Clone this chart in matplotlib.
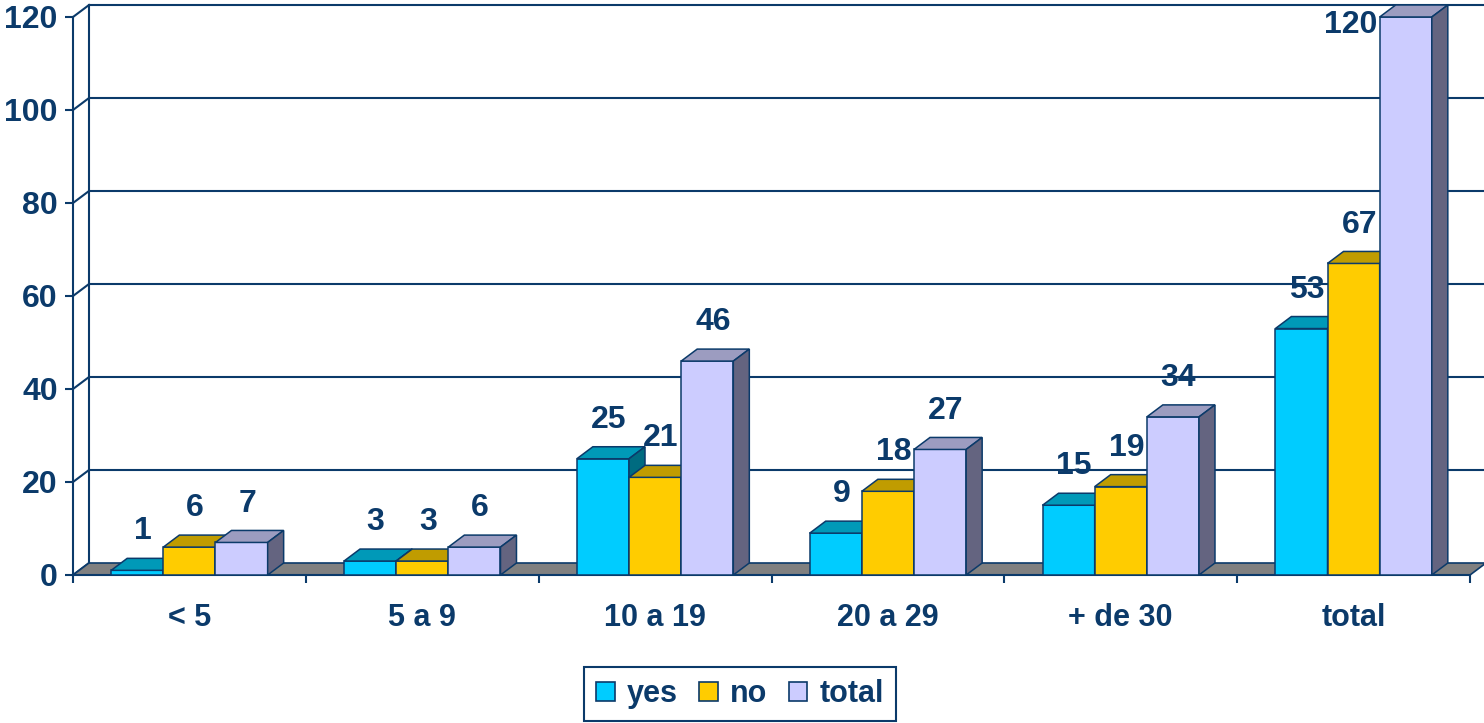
import matplotlib
matplotlib.use("Agg")
import matplotlib.pyplot as plt
import matplotlib.patches as mpatches
from matplotlib.patches import Polygon, Rectangle

plt.rcParams['font.family'] = ['Liberation Sans', 'DejaVu Sans']
plt.rcParams['font.weight'] = 'bold'

# ── Data ───────────────────────────────────────────────────────────────────────
categories = ['< 5', '5 a 9', '10 a 19', '20 a 29', '+ de 30', 'total']
series_names = ['yes', 'no', 'total']
yes_vals = [1, 3, 25, 9, 15, 53]
no_vals = [6, 3, 21, 18, 19, 67]
total_vals = [7, 6, 46, 27, 34, 120]
y_ticks = [0, 20, 40, 60, 80, 100, 120]

# ── Style ──────────────────────────────────────────────────────────────────────
NAVY = '#0b3a6a'
FLOOR = '#808080'
# (front, top, side) faces per series
FACES = [
    ('#00ccff', '#0099b8', '#006b80'),
    ('#ffcc00', '#c09c00', '#806600'),
    ('#ccccff', '#9c9cc0', '#646480'),
]

W, H, DPI = 1484, 723, 100
AX_L, AX_R, AX_B, AX_T = 73, 1470, 575, 17    # front plot box in pixels
DEPTH_PX = (16, 12)                           # 3-D depth shift (right, up)
BAR_W = 0.224                                 # bar width in category units

fig = plt.figure(figsize=(W / DPI, H / DPI), dpi=DPI)
ax = fig.add_axes([AX_L / W, 1 - AX_B / H, (AX_R - AX_L) / W, (AX_B - AX_T) / H])
ax.set_xlim(0, len(categories))
ax.set_ylim(0, y_ticks[-1])

px_x = len(categories) / (AX_R - AX_L)
px_y = y_ticks[-1] / (AX_B - AX_T)
dx, dy = DEPTH_PX[0] * px_x, DEPTH_PX[1] * px_y
n = len(categories)

# ── Walls: back gridlines, left wall, floor ────────────────────────────────────
for v in y_ticks[1:]:
    ax.plot([dx, n + dx], [v + dy, v + dy], color=NAVY, lw=1.5,
            zorder=0.5, clip_on=False, solid_capstyle='butt')
for v in y_ticks:
    ax.plot([0, dx], [v, v + dy], color=NAVY, lw=1.5, zorder=0.6, clip_on=False)
ax.plot([dx, dx], [dy, y_ticks[-1] + dy], color=NAVY, lw=1.5, zorder=0.6, clip_on=False)

floor = Polygon([(0, 0), (n, 0), (n + dx, dy), (dx, dy)], closed=True,
                facecolor=FLOOR, edgecolor=NAVY, lw=1.2, zorder=1, clip_on=False)
ax.add_patch(floor)


# ── 3-D bars ───────────────────────────────────────────────────────────────────
def bar3d(x0, h, faces, z):
    front, top, side = faces
    ax.add_patch(Rectangle((x0, 0), BAR_W, h, facecolor=front, edgecolor=NAVY,
                           lw=1.1, zorder=z, clip_on=False))
    ax.add_patch(Polygon([(x0, h), (x0 + BAR_W, h), (x0 + BAR_W + dx, h + dy), (x0 + dx, h + dy)],
                         closed=True, facecolor=top, edgecolor=NAVY, lw=1.1,
                         zorder=z, clip_on=False))
    ax.add_patch(Polygon([(x0 + BAR_W, 0), (x0 + BAR_W + dx, dy), (x0 + BAR_W + dx, h + dy), (x0 + BAR_W, h)],
                         closed=True, facecolor=side, edgecolor=NAVY, lw=1.1,
                         zorder=z, clip_on=False))


all_series = [yes_vals, no_vals, total_vals]
z = 3
for i in range(n):
    for s, vals in enumerate(all_series):
        x0 = i + 0.5 - 1.5 * BAR_W + s * BAR_W
        v = vals[i]
        bar3d(x0, v, FACES[s], z)
        z += 0.01
        if v > 0.9 * y_ticks[-1]:
            # no room above the tallest bar: label sits to its left
            ax.annotate(str(v), xy=(x0, v), xytext=(-2, -6), textcoords='offset points',
                        ha='right', va='center', fontsize=23, fontweight='bold',
                        color=NAVY, zorder=10, annotation_clip=False)
        else:
            ax.annotate(str(v), xy=(x0 + BAR_W / 2, v), xytext=(4, 28),
                        textcoords='offset points', ha='center', va='center',
                        fontsize=23, fontweight='bold', color=NAVY, zorder=10,
                        annotation_clip=False)

# ── Axes ───────────────────────────────────────────────────────────────────────
for side in ['top', 'right']:
    ax.spines[side].set_visible(False)
for side in ['left', 'bottom']:
    ax.spines[side].set_color(NAVY)
    ax.spines[side].set_linewidth(1.5)
    ax.spines[side].set_zorder(2)

ax.set_yticks(y_ticks)
ax.set_yticklabels([str(t) for t in y_ticks])
ax.tick_params(axis='y', direction='out', length=6, width=1.5, color=NAVY,
               labelsize=23, labelcolor=NAVY, pad=5)

ax.set_xticks(range(n + 1))
ax.set_xticklabels([''] * (n + 1))
ax.set_xticks([i + 0.5 for i in range(n)], minor=True)
ax.set_xticklabels(categories, minor=True)
ax.tick_params(axis='x', which='major', direction='out', length=6, width=1.5, color=NAVY)
ax.tick_params(axis='x', which='minor', length=0, labelsize=22, labelcolor=NAVY, pad=20)
for lab in ax.get_yticklabels() + ax.get_xticklabels(minor=True):
    lab.set_fontweight('bold')

# ── Legend ─────────────────────────────────────────────────────────────────────
handles = [mpatches.Patch(facecolor=FACES[k][0], edgecolor=NAVY, lw=1.2, label=series_names[k])
           for k in range(3)]
leg = fig.legend(handles=handles, loc='lower center', bbox_to_anchor=(740 / W, 0.0),
                 ncol=3, fontsize=22, frameon=True, fancybox=False, framealpha=1,
                 edgecolor=NAVY, handlelength=0.6, handleheight=0.6,
                 handletextpad=0.4, columnspacing=0.7, borderpad=0.4, borderaxespad=0.05)
leg.get_frame().set_linewidth(1.5)
for t in leg.get_texts():
    t.set_color(NAVY)
    t.set_fontweight('bold')

fig.savefig('out.png', dpi=DPI)
